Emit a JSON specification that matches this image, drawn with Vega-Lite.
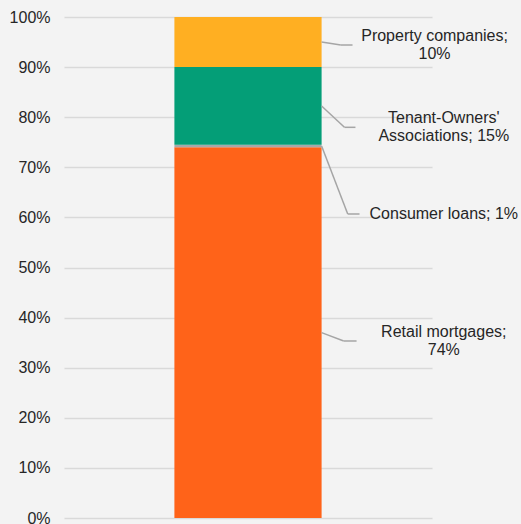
{
  "$schema": "https://vega.github.io/schema/vega-lite/v6.json",
  "width": 368,
  "height": 501,
  "autosize": "none",
  "padding": {"left": 64, "top": 17, "right": 89, "bottom": 6},
  "background": "#F3F3F3",
  "config": {"view": {"stroke": null}, "font": "Liberation Sans"},
  "data": {"values": [
    {"segment": "Retail mortgages", "value": 74.0, "order": 1},
    {"segment": "Consumer loans", "value": 0.5, "order": 2},
    {"segment": "Tenant-Owners' Associations", "value": 15.5, "order": 3},
    {"segment": "Property companies", "value": 10.0, "order": 4}
  ]},
  "transform": [
    {"stack": "value", "groupby": [], "sort": [{"field": "order", "order": "ascending"}], "as": ["y0", "y1"]},
    {"calculate": "(datum.y0 + datum.y1) / 2", "as": "mid"}
  ],
  "layer": [
    {
      "mark": {"type": "bar"},
      "encoding": {
        "x": {"datum": 30, "type": "quantitative", "scale": {"domain": [0, 100]}, "axis": null},
        "x2": {"datum": 70},
        "y": {"field": "y0", "type": "quantitative", "scale": {"domain": [0, 100]},
          "axis": {"values": [0, 10, 20, 30, 40, 50, 60, 70, 80, 90, 100], "labelExpr": "datum.value + '%'",
            "domain": false, "ticks": false, "labelPadding": 14, "labelFontSize": 16, "labelColor": "#262626",
            "labelFont": "Liberation Sans", "gridColor": "#D9D9D9", "gridWidth": 1.5, "title": null}},
        "y2": {"field": "y1"},
        "color": {"field": "segment", "type": "nominal", "legend": null,
          "scale": {"domain": ["Retail mortgages", "Consumer loans", "Tenant-Owners' Associations", "Property companies"],
            "range": ["#FF6319", "#A8A8A8", "#049E77", "#FFAF22"]}}
      }
    },
    {
      "transform": [{"filter": "datum.segment === 'Property companies'"}],
      "layer": [
        {"mark": {"type": "rule", "color": "#A5A5A5", "strokeWidth": 1.5},
          "encoding": {"x": {"datum": 70}, "x2": {"datum": 75.2}, "y": {"field": "mid", "type": "quantitative"}, "y2": {"datum": 94.41}}},
        {"mark": {"type": "rule", "color": "#A5A5A5", "strokeWidth": 1.5},
          "encoding": {"x": {"datum": 75.2}, "x2": {"datum": 78.4}, "y": {"datum": 94.41}}},
        {"mark": {"type": "text", "align": "center", "baseline": "middle", "fontSize": 16, "lineHeight": 18, "dy": -9, "color": "#262626"},
          "encoding": {"x": {"datum": 100.7}, "y": {"datum": 94.41}, "text": {"value": ["Property companies;", "10%"]}}}
      ]
    },
    {
      "transform": [{"filter": "datum.segment === \"Tenant-Owners' Associations\""}],
      "layer": [
        {"mark": {"type": "rule", "color": "#A5A5A5", "strokeWidth": 1.5},
          "encoding": {"x": {"datum": 70}, "x2": {"datum": 76.2}, "y": {"field": "mid", "type": "quantitative"}, "y2": {"datum": 77.98}}},
        {"mark": {"type": "rule", "color": "#A5A5A5", "strokeWidth": 1.5},
          "encoding": {"x": {"datum": 76.2}, "x2": {"datum": 79.2}, "y": {"datum": 77.98}}},
        {"mark": {"type": "text", "align": "center", "baseline": "middle", "fontSize": 16, "lineHeight": 18, "dy": -9, "color": "#262626"},
          "encoding": {"x": {"datum": 103.2}, "y": {"datum": 77.98}, "text": {"value": ["Tenant-Owners'", "Associations; 15%"]}}}
      ]
    },
    {
      "transform": [{"filter": "datum.segment === 'Consumer loans'"}],
      "layer": [
        {"mark": {"type": "rule", "color": "#A5A5A5", "strokeWidth": 1.5},
          "encoding": {"x": {"datum": 70}, "x2": {"datum": 77.1}, "y": {"field": "mid", "type": "quantitative"}, "y2": {"datum": 60.68}}},
        {"mark": {"type": "rule", "color": "#A5A5A5", "strokeWidth": 1.5},
          "encoding": {"x": {"datum": 77.1}, "x2": {"datum": 80.3}, "y": {"datum": 60.68}}},
        {"mark": {"type": "text", "align": "center", "baseline": "middle", "fontSize": 16, "lineHeight": 18, "color": "#262626"},
          "encoding": {"x": {"datum": 103.2}, "y": {"datum": 60.68}, "text": {"value": "Consumer loans; 1%"}}}
      ]
    },
    {
      "transform": [{"filter": "datum.segment === 'Retail mortgages'"}],
      "layer": [
        {"mark": {"type": "rule", "color": "#A5A5A5", "strokeWidth": 1.5},
          "encoding": {"x": {"datum": 70}, "x2": {"datum": 76.0}, "y": {"field": "mid", "type": "quantitative"}, "y2": {"datum": 35.33}}},
        {"mark": {"type": "rule", "color": "#A5A5A5", "strokeWidth": 1.5},
          "encoding": {"x": {"datum": 76.0}, "x2": {"datum": 79.5}, "y": {"datum": 35.33}}},
        {"mark": {"type": "text", "align": "center", "baseline": "middle", "fontSize": 16, "lineHeight": 18, "dy": -9, "color": "#262626"},
          "encoding": {"x": {"datum": 103.2}, "y": {"datum": 35.33}, "text": {"value": ["Retail mortgages;", "74%"]}}}
      ]
    }
  ]
}
